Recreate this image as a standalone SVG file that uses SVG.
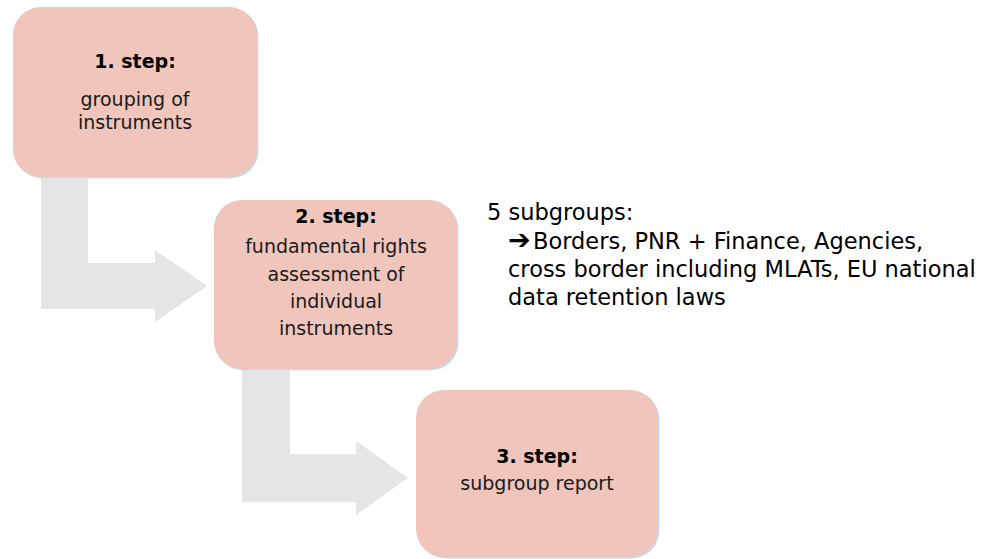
<svg xmlns="http://www.w3.org/2000/svg" width="998" height="559" viewBox="0 0 998 559">
<style>
.box{fill:#EFC5BC;}
.shadow{fill:#C9DAF0;}
.arrow{fill:#E5E5E5;}
.t{font-family:"DejaVu Sans",sans-serif;font-size:19px;fill:#1a1a1a;text-anchor:middle;}
.b{font-weight:bold;fill:#000;}
.side{font-family:"DejaVu Sans",sans-serif;font-size:22.5px;fill:#000;}
.sym{font-size:27px;font-weight:bold;}
</style>
<rect width="998" height="559" fill="#ffffff"/>
<g id="connectors">
<path class="arrow" d="M41,170 L88,170 L88,263 L155,263 L155,250 L207,286 L155,322 L155,309 L41,309 Z"/>
<path class="arrow" d="M242,360 L290,360 L290,454 L356,454 L356,441 L408,478 L356,515 L356,502 L242,502 Z"/>
</g>
<g id="step1">
<rect class="shadow" x="14.5" y="8.5" width="244" height="170" rx="28"/>
<rect class="box" x="13" y="7" width="244" height="170" rx="28"/>
<text class="t b" x="135" y="68">1. step:</text>
<text class="t" x="135" y="106">grouping of</text>
<text class="t" x="135" y="129">instruments</text>
</g>
<g id="step2">
<rect class="shadow" x="215.5" y="201.5" width="243" height="169" rx="28"/>
<rect class="box" x="214" y="200" width="243" height="169" rx="28"/>
<text class="t b" x="336" y="223">2. step:</text>
<text class="t" x="336" y="253">fundamental rights</text>
<text class="t" x="336" y="281">assessment of</text>
<text class="t" x="336" y="308">individual</text>
<text class="t" x="336" y="335">instruments</text>
</g>
<g id="step3">
<rect class="shadow" x="417.5" y="391.5" width="242" height="167" rx="28"/>
<rect class="box" x="416" y="390" width="242" height="167" rx="28"/>
<text class="t b" x="537" y="463">3. step:</text>
<text class="t" x="537" y="490">subgroup report</text>
</g>
<g id="subgroups">
<text class="side" x="487" y="220">5 subgroups:</text>
<text class="side" x="508" y="249"><tspan class="sym">➔</tspan><tspan x="533">Borders, PNR + Finance, Agencies,</tspan></text>
<text class="side" x="508" y="277">cross border including MLATs, EU national</text>
<text class="side" x="508" y="305">data retention laws</text>
</g>
</svg>
